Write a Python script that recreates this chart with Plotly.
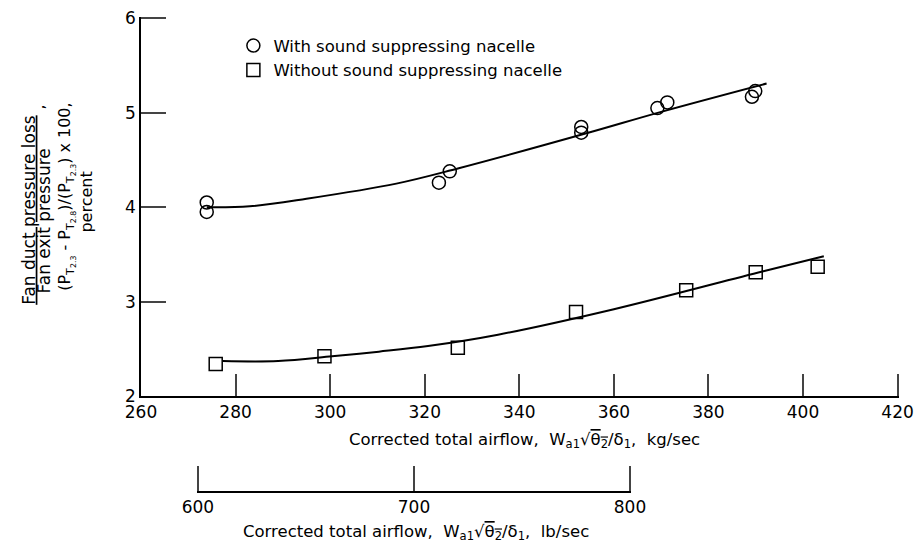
"""
Fan duct pressure loss versus corrected total airflow, with and without
the sound suppressing nacelle.
"""
import plotly.graph_objects as go

# measured points, with sound suppressing nacelle (kg/sec, percent)
with_x = [273.9, 273.9, 323.0, 325.3, 353.1, 353.1, 369.2, 371.3, 389.2, 389.9]
with_y = [4.05, 3.95, 4.26, 4.38, 4.85, 4.79, 5.05, 5.11, 5.17, 5.23]

# measured points, without sound suppressing nacelle
without_x = [275.8, 298.8, 327.0, 352.0, 375.3, 390.0, 403.1]
without_y = [2.34, 2.42, 2.51, 2.89, 3.12, 3.31, 3.37]

# faired curves
fair_with_x = [273.9, 283.0, 295.0, 314.0, 327.0, 354.0, 370.0, 392.3]
fair_with_y = [4.00, 4.01, 4.09, 4.25, 4.41, 4.78, 5.01, 5.31]
fair_without_x = [277.3, 289.0, 300.4, 310.3, 320.7, 335.5, 360.0, 391.4, 404.4]
fair_without_y = [2.37, 2.37, 2.42, 2.47, 2.53, 2.65, 2.92, 3.32, 3.48]

kg_ticks = [260, 280, 300, 320, 340, 360, 380, 400, 420]
lb_ticks = [600, 700, 800]
y_ticks = [2, 3, 4, 5, 6]

FONT = "DejaVu Sans"
W, H = 922, 559
# the end ticks are dropped by plotly when they sit on the range edge,
# so the ranges run a hair past them and the margins make up for it
L, R, T, B = 141, 17.9, 8.5, 67
PW = W - L - R
PH = H - T - B


def px_x(px):
    """pixel column -> paper x"""
    return (px - L) / PW


def px_y(py):
    """pixel row -> paper y"""
    return (H - B - py) / PH


fig = go.Figure()

fig.add_trace(go.Scatter(
    x=fair_with_x, y=fair_with_y, mode="lines", line_shape="spline",
    line=dict(color="black", width=2), showlegend=False, hoverinfo="skip"
))
fig.add_trace(go.Scatter(
    x=fair_without_x, y=fair_without_y, mode="lines", line_shape="spline",
    line=dict(color="black", width=2), showlegend=False, hoverinfo="skip"
))
fig.add_trace(go.Scatter(
    x=with_x, y=with_y, mode="markers", name="With sound suppressing nacelle",
    marker=dict(symbol="circle-open", size=13, color="black", line=dict(width=1.5))
))
fig.add_trace(go.Scatter(
    x=without_x, y=without_y, mode="markers", name="Without sound suppressing nacelle",
    marker=dict(symbol="square-open", size=13, color="black", line=dict(width=1.5))
))
# carrier trace for the lb/sec scale
fig.add_trace(go.Scatter(
    x=[lb_ticks[0], lb_ticks[-1]], y=[None, None], xaxis="x2", yaxis="y",
    mode="markers", showlegend=False, hoverinfo="skip"
))

y_bottom = px_y(394.3)

axis_style = dict(
    ticks="inside", tickwidth=1.5, showline=True, linewidth=1.5, linecolor="black",
    showgrid=False, zeroline=False, tickfont=dict(size=17), ticklabeloverflow="allow"
)

fig.update_layout(
    width=W, height=H,
    margin=dict(l=L, r=R, t=T, b=B),
    plot_bgcolor="rgba(0,0,0,0)", paper_bgcolor="white",
    font=dict(family=FONT, size=16, color="black"),
    xaxis=dict(range=[260, 420.3], tickvals=kg_ticks, ticklen=22, anchor="y", **axis_style),
    xaxis2=dict(
        range=[599.4, 800.6], tickvals=lb_ticks, ticklen=25, anchor="free", position=0,
        domain=[px_x(197.0), px_x(634.6)], **axis_style
    ),
    yaxis=dict(range=[2, 6.015], tickvals=y_ticks, ticklen=25, domain=[y_bottom, 1], **axis_style),
    legend=dict(
        x=px_x(234), y=px_y(20), xanchor="left", yanchor="top",
        font=dict(family=FONT, size=16.5), bgcolor="rgba(0,0,0,0)"
    ),
)

# axis titles and the y label block
notes = [
    dict(text="<u>Fan duct pressure loss</u>", x=28, y=205, angle=-90, size=17),
    dict(text=",", x=38, y=100, angle=-90, size=16),
    dict(text="Fan exit pressure", x=43, y=216, angle=-90, size=17),
    dict(text="(P<sub>T<sub>2.3</sub></sub> - P<sub>T<sub>2.8</sub></sub>)/(P<sub>T<sub>2.3</sub></sub>) x 100,",
         x=66, y=192, angle=-90, size=16),
    dict(text="percent", x=86, y=197, angle=-90, size=16),
    dict(text="Corrected total airflow,  W<sub>a1</sub>√<span style='text-decoration:overline'>θ<sub>2</sub></span>/δ<sub>1</sub>,  kg/sec",
         x=527, y=440, angle=0, size=16.5),
    dict(text="Corrected total airflow,  W<sub>a1</sub>√<span style='text-decoration:overline'>θ<sub>2</sub></span>/δ<sub>1</sub>,  lb/sec",
         x=418, y=533, angle=0, size=16.5),
]
for n in notes:
    fig.add_annotation(
        text=n["text"], xref="paper", yref="paper", x=px_x(n["x"]), y=px_y(n["y"]),
        xanchor="center", yanchor="middle", textangle=n["angle"], showarrow=False,
        font=dict(family=FONT, size=n["size"], color="black")
    )

# the page's default body margin would shift the whole figure
fig.write_html(
    "out.html",
    config={"displayModeBar": False},
    post_script="document.body.style.margin='0';"
)
